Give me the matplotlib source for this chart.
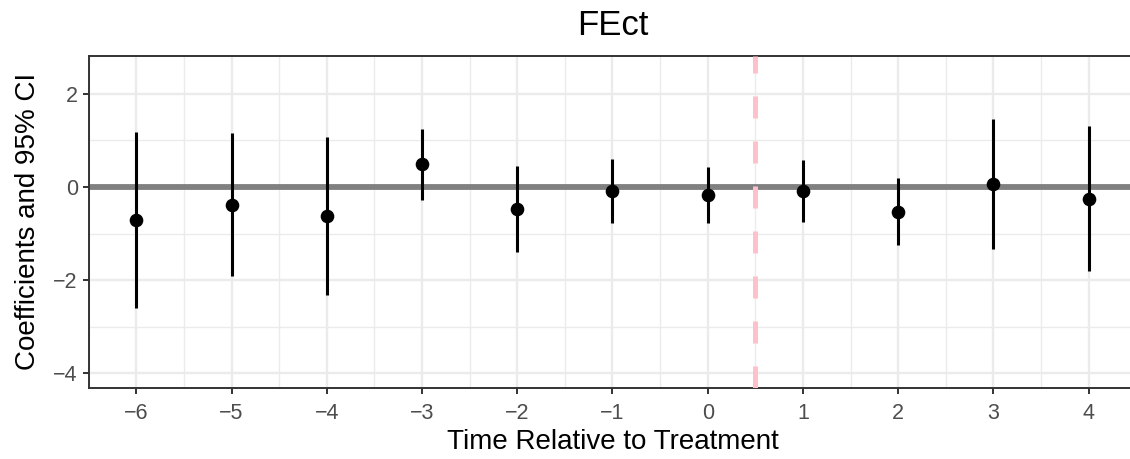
import numpy as np
import matplotlib
matplotlib.use('Agg')
from matplotlib import pyplot as plt

plt.rcParams['font.family'] = ['Liberation Sans', 'DejaVu Sans']

# event time, point estimate, 95% CI bounds
periods = [-6, -5, -4, -3, -2, -1, 0, 1, 2, 3, 4]
coef = [-0.71, -0.38, -0.62, 0.49, -0.48, -0.08, -0.17, -0.09, -0.53, 0.06, -0.25]
ci_low = [-2.60, -1.91, -2.32, -0.28, -1.40, -0.77, -0.77, -0.76, -1.25, -1.33, -1.81]
ci_high = [1.18, 1.15, 1.08, 1.25, 0.45, 0.61, 0.42, 0.57, 0.19, 1.47, 1.31]
treat_line = 0.5

fig = plt.figure(figsize=(11.3, 4.59), dpi=100)
ax = fig.add_axes([0.0785, 0.1553, 0.927, 0.7233])

ax.set_xlim(-6.5, 4.5)
ax.set_ylim(-4.31, 2.82)

ax.set_xticks(periods)
ax.set_xticks(np.arange(-6.5, 4.6, 1.0), minor=True)
ax.set_yticks([-4, -2, 0, 2])
ax.set_yticks([-3, -1, 1], minor=True)

ax.grid(which='major', color='#ebebeb', lw=1.7, zorder=0)
ax.grid(which='minor', color='#ebebeb', lw=1.0, zorder=0)
ax.set_axisbelow(True)

ax.axhline(0, color='#808080', lw=4.2, zorder=2)
ax.plot([treat_line, treat_line], [-4.31, 2.82], color='#ffc0cb', lw=3.6,
        dashes=(4.4, 4.6), zorder=3, solid_capstyle='butt')
ax.vlines(periods, ci_low, ci_high, color='black', lw=2.2, zorder=4)
ax.plot(periods, coef, 'o', color='black', ms=8.8, zorder=5)

for s in ax.spines.values():
    s.set_color('#333333')
    s.set_linewidth(1.4)

ax.tick_params(which='major', length=4.3, width=1.4, color='#333333',
               labelcolor='#4d4d4d', labelsize=15.5, pad=3.5)
ax.tick_params(axis='x', pad=7)
ax.tick_params(which='minor', length=0)

ax.set_xlabel('Time Relative to Treatment', fontsize=20, labelpad=3)
ax.set_ylabel('Coefficients and 95% CI', fontsize=20, labelpad=9)
ax.set_title('FEct', fontsize=25, pad=15)

fig.savefig('out.png', dpi=100)
